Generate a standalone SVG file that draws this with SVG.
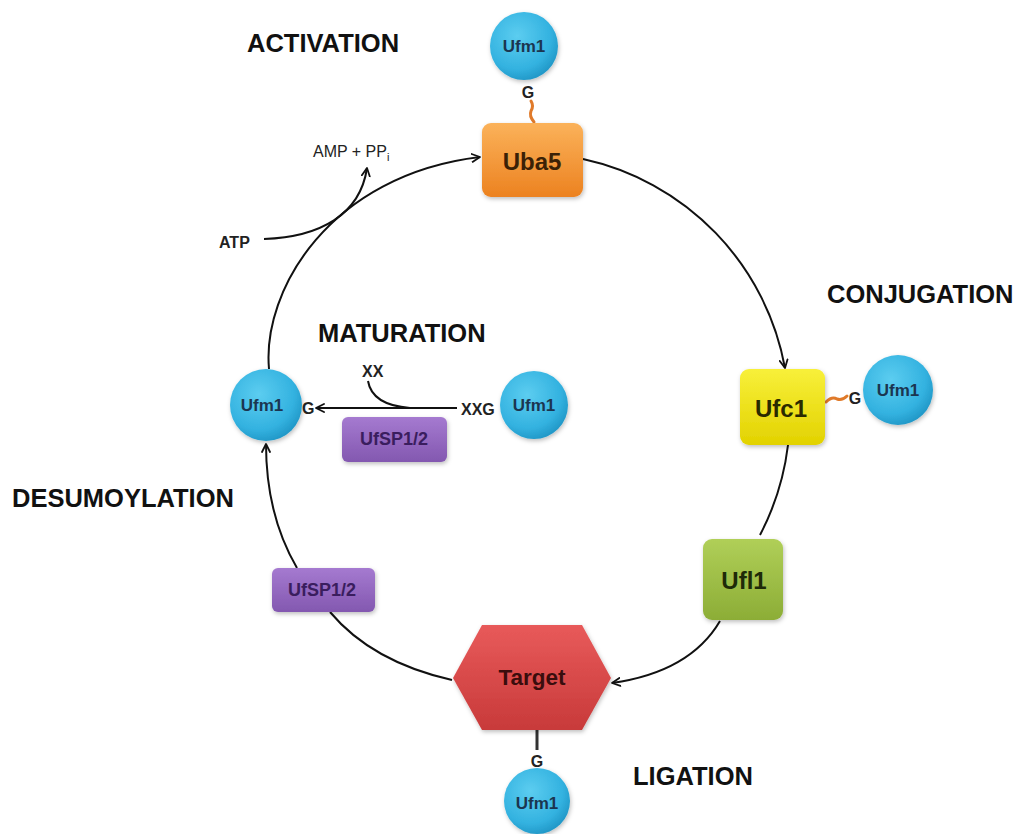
<svg xmlns="http://www.w3.org/2000/svg" width="1023" height="834" viewBox="0 0 1023 834">
<defs>
<radialGradient id="gBlue" cx="0.4" cy="0.35" r="0.7">
<stop offset="0" stop-color="#5ccdf0"/><stop offset="0.7" stop-color="#33b2e0"/><stop offset="1" stop-color="#1f94c4"/>
</radialGradient>
<linearGradient id="gOrange" x1="0" y1="0" x2="0" y2="1"><stop offset="0" stop-color="#fbb25a"/><stop offset="1" stop-color="#ec8220"/></linearGradient>
<linearGradient id="gYellow" x1="0" y1="0" x2="0" y2="1"><stop offset="0" stop-color="#f8f03a"/><stop offset="1" stop-color="#e2d200"/></linearGradient>
<linearGradient id="gGreen" x1="0" y1="0" x2="0" y2="1"><stop offset="0" stop-color="#b0cf58"/><stop offset="1" stop-color="#8cad36"/></linearGradient>
<linearGradient id="gPurple" x1="0" y1="0" x2="0" y2="1"><stop offset="0" stop-color="#a57ad0"/><stop offset="1" stop-color="#8358b0"/></linearGradient>
<linearGradient id="gRed" x1="0" y1="0" x2="0" y2="1"><stop offset="0" stop-color="#e85a5a"/><stop offset="1" stop-color="#c83a3a"/></linearGradient>
<filter id="sh" x="-20%" y="-20%" width="140%" height="140%"><feDropShadow dx="1" dy="2" stdDeviation="2" flood-color="#000" flood-opacity="0.25"/></filter>
<marker id="arr" viewBox="0 0 10 10" refX="9" refY="5" markerWidth="10" markerHeight="10" markerUnits="userSpaceOnUse" orient="auto">
<path d="M1,1 L9,5 L1,9" fill="none" stroke="#111" stroke-width="1.8" stroke-linecap="round" stroke-linejoin="round"/>
</marker>
<style>
.lbl{font-family:"Liberation Sans",Arial,sans-serif;font-weight:bold;font-size:25.5px;fill:#111;}
.t{font-family:"Liberation Sans",Arial,sans-serif;font-weight:bold;text-anchor:middle;dominant-baseline:central;}
.ufm{font-size:17px;fill:#1b3550;}
.sm{font-family:"Liberation Sans",Arial,sans-serif;font-weight:bold;font-size:16px;fill:#222;}
.line{fill:none;stroke:#111;stroke-width:2;}
.orng{fill:none;stroke:#e07a2a;stroke-width:3;stroke-linecap:round;}
</style>
</defs>
<rect width="1023" height="834" fill="#fff"/>

<g id="labels">
<text class="lbl" x="247" y="52">ACTIVATION</text>
<text class="lbl" x="827" y="303">CONJUGATION</text>
<text class="lbl" x="318" y="342">MATURATION</text>
<text class="lbl" x="12" y="507">DESUMOYLATION</text>
<text class="lbl" x="633" y="785">LIGATION</text>
</g>

<g id="connectors">
<path class="line" d="M269,369 C262,290 330,175 480,157" marker-end="url(#arr)"/>
<path class="line" d="M583,159 A262,262 0 0 1 785,368" marker-end="url(#arr)"/>
<path class="line" d="M788,445 A262,262 0 0 1 760,535"/>
<path class="line" d="M720,621 Q690,672 612,683" marker-end="url(#arr)"/>
<path class="line" d="M452,680 Q372,662 330,612"/>
<path class="line" d="M297,568 Q266,515 266,444" marker-end="url(#arr)"/>
<path class="line" d="M264,239 C320,237 360,215 367,168" marker-end="url(#arr)"/>
<path class="line" d="M457,408 L316,408" marker-end="url(#arr)"/>
<path class="line" d="M368,381 Q372,405 410,408"/>
<path class="orng" d="M531,101 q3,5 0,10 q-2,5 3,11"/>
<path class="orng" d="M826,402 q6,-6 11,-3 q5,2 10,-3"/>
<line x1="537" y1="730" x2="537" y2="750" stroke="#333" stroke-width="3"/>
</g>

<g id="atp">
<text class="sm" x="219" y="248" font-size="18">ATP</text>
</g>
<g id="amp">
<text font-family="'Liberation Sans',Arial,sans-serif" font-size="16" fill="#222" x="313" y="157">AMP + PP<tspan font-size="11" dy="4">i</tspan></text>
</g>

<g id="ufm1-top">
<circle cx="524" cy="46" r="34" fill="url(#gBlue)" filter="url(#sh)"/>
<text class="t ufm" x="524" y="46">Ufm1</text>
<text class="sm" x="528" y="98" text-anchor="middle">G</text>
</g>

<g id="uba5">
<rect x="482" y="123" width="101" height="74" rx="9" fill="url(#gOrange)" filter="url(#sh)"/>
<text class="t" x="532" y="161" font-size="24" fill="#3b2106">Uba5</text>
</g>

<g id="ufc1">
<rect x="740" y="369" width="85" height="76" rx="9" fill="url(#gYellow)" filter="url(#sh)"/>
<text class="t" x="781" y="408" font-size="24" fill="#2a2a00">Ufc1</text>
</g>

<g id="ufm1-right">
<text class="sm" x="855" y="404" text-anchor="middle">G</text>
<circle cx="898" cy="390" r="35" fill="url(#gBlue)" filter="url(#sh)"/>
<text class="t ufm" x="898" y="390">Ufm1</text>
</g>

<g id="ufl1">
<rect x="703" y="539" width="80" height="81" rx="9" fill="url(#gGreen)" filter="url(#sh)"/>
<text class="t" x="744" y="580" font-size="24" fill="#1e2a08">Ufl1</text>
</g>

<g id="target">
<polygon points="453,678 482,625 582,625 611,678 582,730 482,730" fill="url(#gRed)" filter="url(#sh)"/>
<text class="t" x="532" y="677" font-size="22.5" fill="#3a0d0d">Target</text>
</g>

<g id="ufm1-bottom">
<text class="sm" x="537" y="767" text-anchor="middle">G</text>
<circle cx="537" cy="801" r="33" fill="url(#gBlue)" filter="url(#sh)"/>
<text class="t ufm" x="537" y="803">Ufm1</text>
</g>

<g id="ufsp-lower">
<rect x="272" y="568" width="103" height="44" rx="6" fill="url(#gPurple)" filter="url(#sh)"/>
<text class="t" x="322" y="590" font-size="18" fill="#3a1d5e">UfSP1/2</text>
</g>

<g id="ufm1-left">
<circle cx="266" cy="405" r="36" fill="url(#gBlue)" filter="url(#sh)"/>
<text class="t ufm" x="262" y="405">Ufm1</text>
<text class="sm" x="302" y="414">G</text>
</g>

<g id="maturation">
<text class="sm" x="362" y="377">XX</text>
<text class="sm" x="461" y="415" font-size="17">XXG</text>
<circle cx="534" cy="405" r="34" fill="url(#gBlue)" filter="url(#sh)"/>
<text class="t ufm" x="534" y="405">Ufm1</text>
</g>

<g id="ufsp-mid">
<rect x="342" y="417" width="105" height="45" rx="6" fill="url(#gPurple)" filter="url(#sh)"/>
<text class="t" x="394" y="439" font-size="18" fill="#3a1d5e">UfSP1/2</text>
</g>
</svg>
